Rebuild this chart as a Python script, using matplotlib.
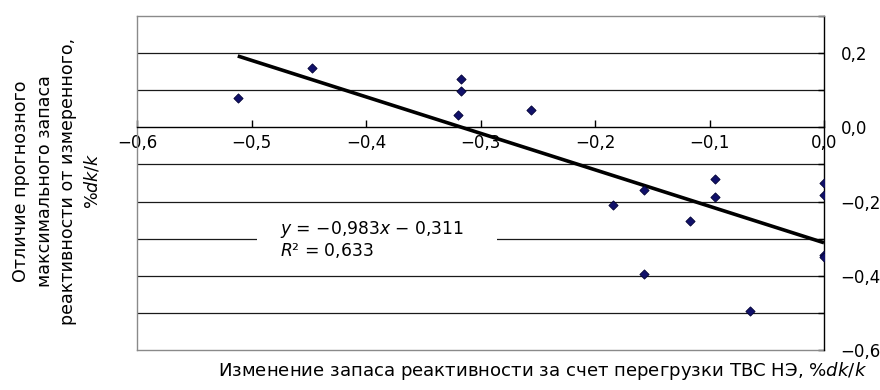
import matplotlib
matplotlib.use('Agg')
import matplotlib.pyplot as plt
import numpy as np
from matplotlib.ticker import FuncFormatter, MultipleLocator
from matplotlib.lines import Line2D
from matplotlib.patches import Rectangle

# Data
x_vals = [-0.512, -0.447, -0.317, -0.317, -0.320, -0.256, -0.095, -0.184, -0.157,
          -0.157, -0.117, -0.095, 0.000, 0.000, 0.000, 0.000, -0.065]
y_vals = [0.079, 0.159, 0.129, 0.098, 0.032, 0.048, -0.140, -0.209, -0.168,
          -0.394, -0.252, -0.188, -0.150, -0.182, -0.345, -0.350, -0.495]
slope = -0.983
intercept = -0.311
trend_x = np.array([-0.512, 0.0])
x_ticks = [-0.6, -0.5, -0.4, -0.3, -0.2, -0.1, 0.0]
y_ticks = [-0.6, -0.4, -0.2, 0.0, 0.2]
grid_levels = [0.2, 0.1, -0.1, -0.2, -0.3, -0.4, -0.5]

plt.rcParams['font.family'] = ['DejaVu Sans']
plt.rcParams['mathtext.fontset'] = 'dejavusans'

W, H = 880, 390
fig = plt.figure(figsize=(W / 100, H / 100), dpi=100)
L, R, T, B = 137, 824, 16, 350
ax = fig.add_axes([L / W, 1 - B / H, (R - L) / W, (B - T) / H])
ax.set_xlim(-0.6, 0.0)
ax.set_ylim(-0.6, 0.3)


def fmt(v, pos=None):
    if abs(v) < 1e-9:
        v = 0.0
    s = f"{v:.1f}".replace('.', ',')
    return s.replace('-', '\u2212')


for g in grid_levels:
    ax.axhline(g, color='#1a1a1a', lw=0.9, zorder=1)

ax.plot(trend_x, slope * trend_x + intercept, color='black', lw=2.6, zorder=3,
        solid_capstyle='butt')
ax.scatter(x_vals, y_vals, marker='D', s=22, facecolor='#10106a', edgecolor='#000033',
           linewidth=0.6, zorder=4)

# spines
for s in ['left', 'top']:
    ax.spines[s].set_color('#8a8a8a')
    ax.spines[s].set_linewidth(1.0)
ax.spines['right'].set_color('black')
ax.spines['right'].set_linewidth(1.0)
ax.spines['bottom'].set_position(('data', 0))
ax.spines['bottom'].set_color('black')
ax.spines['bottom'].set_linewidth(1.0)
ax.add_line(Line2D([0, 1], [0, 0], transform=ax.transAxes, color='#8a8a8a', lw=1.0,
                   clip_on=False))

ax.set_xticks(x_ticks)
ax.xaxis.set_major_formatter(FuncFormatter(fmt))
ax.tick_params(axis='x', direction='in', length=5, width=1, pad=5, labelsize=12,
               colors='black')

ax.yaxis.tick_right()
ax.set_yticks(y_ticks)
ax.yaxis.set_minor_locator(MultipleLocator(0.1))
ax.yaxis.set_major_formatter(FuncFormatter(fmt))
ax.tick_params(axis='y', which='both', direction='in', length=4, width=1, pad=12,
               labelsize=12)

# white box behind the regression equation
ax.add_patch(Rectangle((0.175, 0.30), 0.349, 0.07, transform=ax.transAxes,
                       facecolor='white', edgecolor='none', zorder=2))
ax.text(-0.475, -0.302,
        "$\\it{y}$ = \u22120,983$\\it{x}$ \u2212 0,311\n$\\it{R}$\u00b2 = 0,633",
        fontsize=12.3, ha='left', va='center', linespacing=1.05, zorder=5)

fig.text(543 / W, 1 - 371 / H,
         "Изменение запаса реактивности за счет перегрузки ТВС НЭ, %$\\it{dk/k}$",
         ha='center', va='center', fontsize=13.1)
fig.text(57 / W, 1 - 181 / H,
         "Отличие прогнозного\nмаксимального запаса\nреактивности от измеренного,\n%$\\it{dk/k}$",
         ha='center', va='center', rotation=90, fontsize=12.6, linespacing=1.38)

fig.savefig('out.png', dpi=100)
